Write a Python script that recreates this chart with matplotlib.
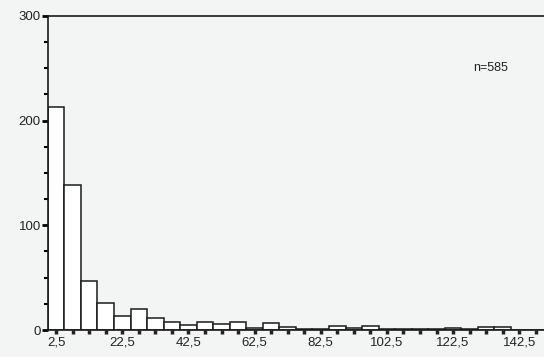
import numpy as np
import matplotlib
matplotlib.use("Agg")
import matplotlib.pyplot as plt
from matplotlib.ticker import FuncFormatter

# histogram: 5-unit bins from 0 to 150
bin_edges = np.arange(0, 155, 5)
counts = [213, 138, 47, 26, 13, 20, 11, 8, 5, 8,
          6, 8, 2, 7, 3, 1, 1, 4, 2, 4,
          1, 1, 1, 1, 2, 1, 3, 3, 0, 0]
label_ticks = [2.5, 22.5, 42.5, 62.5, 82.5, 102.5, 122.5, 142.5]
n_label = "n=585"

BG = "#f3f5f5"
plt.rcParams['font.family'] = ['Liberation Sans', 'DejaVu Sans']

fig = plt.figure(figsize=(5.44, 3.57), dpi=100, facecolor=BG)
ax = fig.add_axes([0.088, 0.0756, 0.912, 0.880], facecolor=BG)

centers = bin_edges[:-1] + 2.5
ax.bar(centers, counts, width=5, color="white", edgecolor="#1a1a1a", linewidth=1.1, zorder=2)

ax.set_xlim(0, 150)
ax.set_ylim(0, 300)

for side in ["left", "bottom", "top"]:
    ax.spines[side].set_linewidth(1.2)
    ax.spines[side].set_color("#1a1a1a")
ax.spines["right"].set_visible(False)

# x: a tick under every bin, labels every 20
ax.set_xticks(label_ticks)
ax.set_xticks(centers, minor=True)
ax.xaxis.set_major_formatter(FuncFormatter(lambda v, p: ("%g" % v).replace(".", ",")))
ax.tick_params(axis="x", which="both", direction="out", length=3, width=2.5, color="#222222")
ax.tick_params(axis="x", which="major", labelsize=9.5, pad=2, labelcolor="#222222")

# y: labelled every 100, minor every 25
ax.set_yticks([0, 100, 200, 300])
ax.set_yticks(np.arange(0, 301, 25), minor=True)
ax.tick_params(axis="y", which="major", direction="out", length=4, width=2, labelsize=9.5, pad=1,
               labelcolor="#222222")
ax.tick_params(axis="y", which="minor", direction="out", length=3, width=1.5)

ax.text(134, 250, n_label, ha="center", va="center", fontsize=9, color="#222222")

fig.savefig("out.png", dpi=100, facecolor=BG)
